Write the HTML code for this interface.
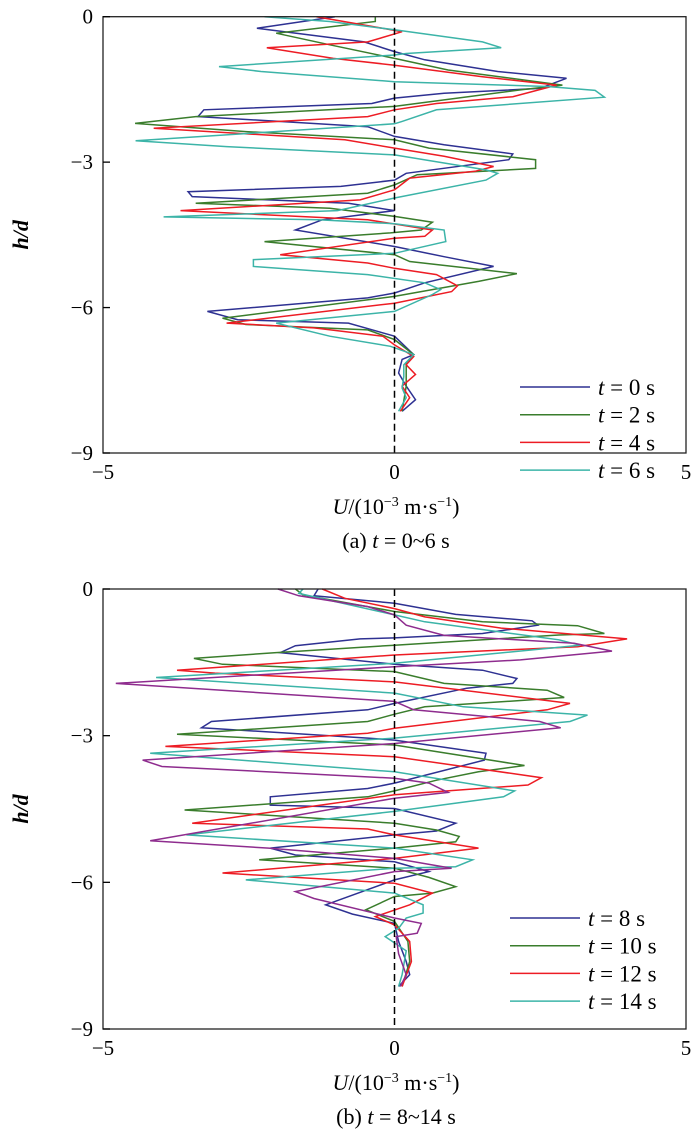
<!DOCTYPE html>
<html><head><meta charset="utf-8"><style>
body{margin:0;background:#fff;}
svg{display:block;font-family:"Liberation Serif",serif;}
</style></head><body>
<svg id="chart" width="700" height="1135"></svg>
<script>
const xTicks=[-5,0,5];
const yTicks=[0,-3,-6,-9];
const yTickLabels=["0","\u22123","\u22126","\u22129"];
const seriesColors=["#2e3192","#3a7d2c","#ed1c24","#3cb4a8","#8e2c8e"];
const labelsA=["t = 0 s","t = 2 s","t = 4 s","t = 6 s"];
const labelsB=["t = 8 s","t = 10 s","t = 12 s","t = 14 s"];
const a0U=[-1.02,-2.36,-0.52,0,0.52,1.77,2.95,2.49,0.85,0,-0.39,-3.27,-3.37,-0.46,0,0.85,2.03,1.96,0.20,0,-0.92,-3.54,-3.47,-0.79,0,-1.24,-1.70,0,0.85,1.70,0.52,0,-0.46,-3.21,-2.69,-0.79,0,0.33,0.13,0.07,0.20,0.36,0.13];
const a0H=[0,-0.24,-0.52,-0.72,-0.89,-1.13,-1.27,-1.48,-1.58,-1.68,-1.79,-1.92,-2.06,-2.27,-2.47,-2.64,-2.83,-2.95,-3.23,-3.37,-3.50,-3.61,-3.71,-3.85,-4.00,-4.19,-4.40,-4.74,-4.95,-5.15,-5.49,-5.70,-5.80,-6.08,-6.25,-6.32,-6.59,-6.97,-7.07,-7.35,-7.62,-7.90,-8.14];
const a2U=[-0.33,-0.33,-2.03,-1.11,0,0.92,2.88,2.16,0,-3.41,-4.45,-2.55,0,0.59,2.42,2.42,0.39,0,-0.46,-3.41,-1.11,0,0.65,0.46,-0.07,-2.23,0,0.26,2.10,1.44,0,-2.95,-2.55,-0.46,0,0.33,0.20,0.20,0.13];
const a2H=[0,-0.10,-0.34,-0.58,-0.86,-1.10,-1.41,-1.51,-1.85,-2.06,-2.20,-2.37,-2.54,-2.71,-2.95,-3.13,-3.26,-3.47,-3.64,-3.85,-3.95,-4.12,-4.24,-4.40,-4.46,-4.64,-4.91,-5.05,-5.30,-5.46,-5.77,-6.22,-6.35,-6.46,-6.66,-6.97,-7.14,-7.62,-8.14];
const a4U=[-1.34,0.13,-0.46,-2.19,-1.05,0,1.51,2.78,2.03,0.72,0,-0.46,-4.13,-0.85,0,0.85,1.70,1.38,0.26,0,-0.59,-3.67,-0.46,0.65,0.52,0,-1.96,-0.46,0,0.72,1.08,0.98,0,-2.88,-1.38,-0.20,0,0.33,0.20,0.36,0.13,0.26,0.10];
const a4H=[0,-0.31,-0.52,-0.64,-0.86,-1.00,-1.24,-1.41,-1.65,-1.79,-1.92,-2.06,-2.30,-2.54,-2.71,-2.88,-3.09,-3.19,-3.33,-3.57,-3.78,-4.00,-4.19,-4.40,-4.53,-4.57,-4.91,-5.08,-5.19,-5.32,-5.55,-5.67,-5.91,-6.32,-6.42,-6.59,-6.77,-7.01,-7.18,-7.38,-7.62,-7.86,-8.14];
const a6U=[-2.23,-1.11,0,1.51,1.83,0.20,0,-3.01,-2.29,0,2.62,3.44,3.60,0.72,0.13,0,-4.44,-2.88,0,1.57,1.77,1.57,0,-0.98,-3.96,-1.31,0,0.85,0.88,0,-2.42,-2.42,-0.46,0.52,0.79,0.65,0,-2.03,-1.11,-0.07,0.33,0.16,0.16,0.13,0.20,0.07];
const a6H=[0,-0.10,-0.27,-0.52,-0.64,-0.76,-0.79,-1.03,-1.13,-1.34,-1.44,-1.52,-1.66,-1.92,-2.16,-2.21,-2.56,-2.68,-2.85,-3.16,-3.23,-3.37,-3.74,-4.00,-4.13,-4.19,-4.27,-4.40,-4.64,-4.88,-5.01,-5.15,-5.32,-5.49,-5.63,-5.73,-6.08,-6.32,-6.59,-6.80,-6.97,-7.18,-7.42,-7.66,-7.86,-8.14];
const b8U=[-1.31,-1.38,0,1.05,2.36,2.46,1.51,0,-0.59,-1.70,-1.96,0,1.51,2.10,2.03,1.24,0,-0.46,-3.14,-3.31,-0.46,0,1.57,1.54,0,-0.46,-2.13,-2.13,0,1.05,0.72,0,-2.13,-1.70,0,0.59,0,-1.18,-0.72,0,0.07,0.20,0.26,0.07];
const b8H=[0,-0.14,-0.29,-0.52,-0.65,-0.74,-0.91,-1.00,-1.02,-1.16,-1.30,-1.54,-1.66,-1.83,-1.93,-2.03,-2.34,-2.47,-2.71,-2.84,-3.05,-3.09,-3.36,-3.50,-3.97,-4.08,-4.25,-4.42,-4.49,-4.79,-4.95,-5.03,-5.30,-5.44,-5.58,-5.78,-5.95,-6.46,-6.65,-6.84,-7.21,-7.62,-7.89,-8.13];
const b10U=[-1.70,-1.57,0,1.51,3.14,3.60,2.82,0,-2.03,-3.44,-2.95,0,0.85,2.62,2.91,2.29,0.52,0,-0.46,-3.73,0,2.23,1.44,0.72,0,-0.46,-3.60,0,0.72,1.11,1.05,0,-2.32,0,0.59,1.05,0.65,0,-0.49,0,0.23,0.26,0.13];
const b10H=[0,-0.12,-0.46,-0.67,-0.75,-0.91,-0.94,-1.15,-1.30,-1.42,-1.54,-1.69,-1.93,-2.07,-2.22,-2.27,-2.41,-2.56,-2.71,-2.97,-3.19,-3.61,-3.74,-3.91,-4.13,-4.25,-4.52,-4.79,-4.93,-5.06,-5.17,-5.30,-5.54,-5.71,-5.90,-6.09,-6.22,-6.29,-6.56,-6.80,-7.21,-7.62,-8.13];
const b12U=[-1.24,-0.85,0,0.52,1.83,3.99,3.14,0,-3.73,-3.08,0,3.01,2.62,0,-0.46,-3.93,0,2.52,2.29,0,-3.47,-0.46,0,1.44,0,-2.95,0,0.65,0.26,-0.33,0,0.26,0.29,0.13];
const b12H=[0,-0.19,-0.40,-0.57,-0.80,-1.02,-1.18,-1.35,-1.66,-1.72,-1.90,-2.34,-2.47,-2.85,-2.95,-3.22,-3.43,-3.86,-4.01,-4.21,-4.79,-4.91,-5.03,-5.30,-5.51,-5.81,-6.02,-6.22,-6.46,-6.70,-6.87,-7.21,-7.62,-8.13];
const b14U=[-1.57,-1.64,0,0.52,2.82,3.18,0,-4.09,0,1.18,3.31,3.01,0,-4.19,0,2.06,1.87,0,-3.57,0,1.34,1.05,0,-2.55,0,0.49,0.49,0.20,0.07,-0.16,0.20,0.13,0.07];
const b14H=[0,-0.09,-0.53,-0.67,-1.04,-1.15,-1.52,-1.81,-2.13,-2.41,-2.58,-2.71,-3.05,-3.36,-3.74,-4.13,-4.25,-4.55,-5.03,-5.30,-5.54,-5.68,-5.71,-5.95,-6.22,-6.46,-6.63,-6.73,-6.94,-7.11,-7.40,-7.89,-8.13];
const bPU=[-2.00,-1.64,-0.46,0,0.20,0.85,3.08,3.73,2.16,0,-4.78,0,0.33,2.49,2.85,0,-4.32,-3.99,0,0.59,0.92,0,-4.19,-2.16,0,0.98,0,-1.70,-1.38,0,0.46,0.39,0.03,0.07,0.20,0.10];
const bPH=[0,-0.14,-0.36,-0.53,-0.74,-0.95,-1.11,-1.27,-1.45,-1.59,-1.93,-2.30,-2.47,-2.71,-2.84,-3.16,-3.50,-3.63,-3.87,-3.97,-4.16,-4.28,-5.15,-5.30,-5.51,-5.71,-5.78,-6.19,-6.33,-6.73,-6.84,-7.04,-7.11,-7.46,-7.89,-8.13];

const NS="http://www.w3.org/2000/svg";
const svg=document.getElementById('chart');
function mk(tag,attrs,parent){const e=document.createElementNS(NS,tag);for(const k in attrs)e.setAttribute(k,attrs[k]);(parent||svg).appendChild(e);return e;}
const L=103,R=686;
const xS=u=>L+(u+5)/10*(R-L);

function panel(id,top,bottom,series,labels,legX,legY,caption,capT){
  const yS=h=>top+(0-h)/9*(bottom-top);
  const g=mk('g',{});
  
  
  series.forEach((s,i)=>{
    const p=mk('polyline',{points:s[0].map((u,j)=>xS(u).toFixed(1)+','+yS(s[1][j]).toFixed(1)).join(' '),fill:'none',stroke:seriesColors[i],'stroke-width':1.5},g);
    
    
  });
  const z=mk('line',{x1:xS(0),x2:xS(0),y1:top,y2:bottom,stroke:'#000','stroke-width':1.5,'stroke-dasharray':'7,4'},g);
  
  
  const fr=mk('rect',{x:L,y:top,width:R-L,height:bottom-top,fill:'none',stroke:'#222','stroke-width':1.3},g);
  
  
  yTicks.forEach((t,i)=>{
    const y=yS(t);
    const tk=mk('line',{x1:L,x2:L+7,y1:y,y2:y,stroke:'#000','stroke-width':1.3},g);
    
    
    const tl=mk('text',{x:L-10,y:y+7,'text-anchor':'end','font-size':21},g);
    tl.textContent=yTickLabels[i];
    
    
  });
  xTicks.forEach(t=>{
    const tl=mk('text',{x:xS(t),y:bottom+26,'text-anchor':'middle','font-size':21},g);
    tl.textContent=t<0?'\u2212'+(-t):String(t);
    
    
  });
  const yl=mk('text',{x:0,y:0,transform:`translate(28,${(top+bottom)/2}) rotate(-90)`,'text-anchor':'middle','font-size':22,'font-style':'italic','font-weight':'bold'},g);
  yl.innerHTML='h/d';
  
  
  const xl=mk('text',{x:396,y:bottom+61,'text-anchor':'middle','font-size':22},g);
  xl.innerHTML='<tspan font-style="italic">U</tspan>/(10<tspan font-size="14" dy="-8">\u22123</tspan><tspan dy="8"> m\u00b7s</tspan><tspan font-size="14" dy="-8">\u22121</tspan><tspan dy="8">)</tspan>';
  
  
  const cp=mk('text',{x:396,y:bottom+95,'text-anchor':'middle','font-size':22},g);
  cp.innerHTML='('+capT+') <tspan font-style="italic">t</tspan> = '+caption;
  
  
  labels.forEach((lb,i)=>{
    const y=legY+i*27.7;
    const ln=mk('line',{x1:legX,x2:legX+70,y1:y,y2:y,stroke:seriesColors[i],'stroke-width':1.5},g);
    
    
    const tx=mk('text',{x:legX+78,y:y+8,'font-size':23},g);
    tx.innerHTML='<tspan font-style="italic">t</tspan> = '+lb.slice(4);
    
    
  });
}
panel('panel-a',16.7,453,[[a0U,a0H],[a2U,a2H],[a4U,a4H],[a6U,a6H]],labelsA,520,387,'0~6 s','a');
panel('panel-b',589,1029,[[b8U,b8H],[b10U,b10H],[b12U,b12H],[b14U,b14H],[bPU,bPH]],labelsB,510,918,'8~14 s','b');
</script>
</body></html>
